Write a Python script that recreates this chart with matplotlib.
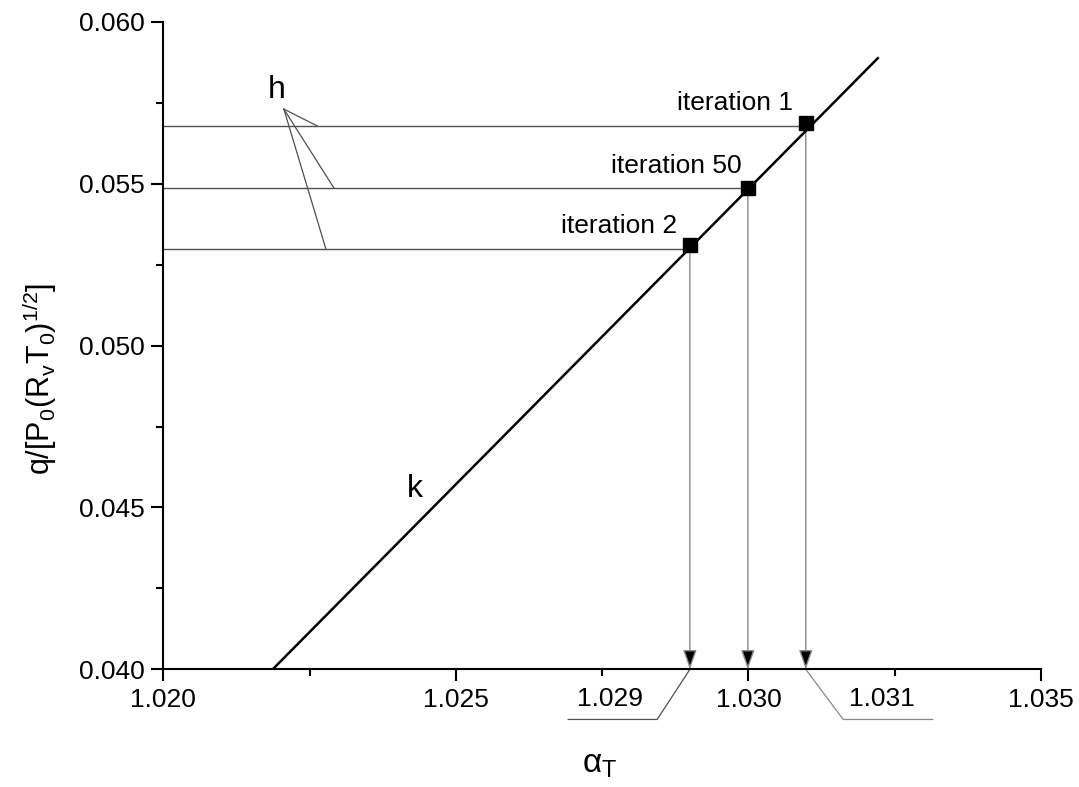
import matplotlib
matplotlib.use('Agg')
import matplotlib.pyplot as plt
from matplotlib.ticker import MultipleLocator, FormatStrFormatter

plt.rcParams['font.family'] = ['Liberation Sans', 'DejaVu Sans']
plt.rcParams['mathtext.default'] = 'regular'

# Line k (two end points).
k_x = [1.02187, 1.03221]
k_y = [0.04000, 0.05888]

# Iteration points on line k.
iter_labels = ['iteration 1', 'iteration 50', 'iteration 2']
iter_x = [1.03098, 1.02999, 1.02900]
iter_y = [0.05689, 0.05487, 0.05311]

# Horizontal levels drawn from the y axis to each point.
h_levels = [0.05679, 0.05486, 0.05298]

fig = plt.figure(figsize=(10.79, 7.87), dpi=100)
ax = fig.add_axes([163.3 / 1079, 1 - 669.3 / 787, (1041 - 163.3) / 1079, (669.3 - 22) / 787])

gray_h = '#505050'
gray_v = '#8a8a8a'

# Horizontal lines.
for xi, yh in zip(iter_x, h_levels):
    ax.plot([1.020, xi], [yh, yh], color=gray_h, lw=1.0, zorder=2)

# Vertical arrows down to the x axis.
for xi, yi in zip(iter_x, iter_y):
    ax.annotate('', xy=(xi, 0.040), xytext=(xi, yi),
                arrowprops=dict(arrowstyle='-|>,head_length=0.85,head_width=0.3',
                                ec=gray_v, fc='black', lw=1.0,
                                shrinkA=0, shrinkB=0, mutation_scale=14),
                zorder=2)

# Line k and the points.
ax.plot(k_x, k_y, color='black', lw=1.8, zorder=3)
ax.plot(iter_x, iter_y, linestyle='', marker='s', color='black', markersize=10, zorder=4)

# Iteration labels.
ax.text(1.03077, 0.05728, iter_labels[0], ha='right', va='baseline', fontsize=19)
ax.text(1.02989, 0.05534, iter_labels[1], ha='right', va='baseline', fontsize=19)
ax.text(1.02878, 0.05348, iter_labels[2], ha='right', va='baseline', fontsize=19)

# Label h with its leader lines.
ax.text(1.02193, 0.05765, 'h', ha='center', va='baseline', fontsize=23)
h_end_x = [1.02263, 1.02292, 1.02278]
for xe, ye in zip(h_end_x, h_levels):
    ax.plot([1.02206, xe], [0.05731, ye], color=gray_h, lw=0.9, zorder=2)

# Label k.
ax.text(1.02430, 0.04533, 'k', ha='center', va='baseline', fontsize=23)

# Extra labels under the axis for the outer arrows.
ax.plot([iter_x[2], 1.02844, 1.02692], [0.040, 0.03845, 0.03845],
        color=gray_h, lw=0.9, clip_on=False)
ax.text(1.02764, 0.03886, '%.3f' % iter_x[2], ha='center', va='baseline', fontsize=19)
ax.plot([iter_x[0], 1.03162, 1.03315], [0.040, 0.03845, 0.03845],
        color=gray_v, lw=0.9, clip_on=False)
ax.text(1.03228, 0.03886, '%.3f' % iter_x[0], ha='center', va='baseline', fontsize=19)

# Axes styling.
ax.set_xlim(1.020, 1.035)
ax.set_ylim(0.040, 0.060)
ax.xaxis.set_major_locator(MultipleLocator(0.005))
ax.xaxis.set_minor_locator(MultipleLocator(0.0025))
ax.yaxis.set_major_locator(MultipleLocator(0.005))
ax.yaxis.set_minor_locator(MultipleLocator(0.0025))
ax.xaxis.set_major_formatter(FormatStrFormatter('%.3f'))
ax.yaxis.set_major_formatter(FormatStrFormatter('%.3f'))
ax.spines['top'].set_visible(False)
ax.spines['right'].set_visible(False)
ax.spines['left'].set_linewidth(1.5)
ax.spines['bottom'].set_linewidth(1.5)
ax.tick_params(which='major', direction='out', length=8.5, width=1.5, labelsize=19, pad=5)
ax.tick_params(which='minor', direction='out', length=5, width=1.5)

fig.text(600 / 1079, 1 - 765 / 787, r'α$_{T}$', ha='center', va='center', fontsize=24)
fig.text(40 / 1079, 1 - 379 / 787, r'q/[P$_{0}$(R$_{v}$T$_{0}$)$^{1/2}$]',
         ha='center', va='center', rotation=90, fontsize=22)

plt.savefig('out.png', dpi=100)
